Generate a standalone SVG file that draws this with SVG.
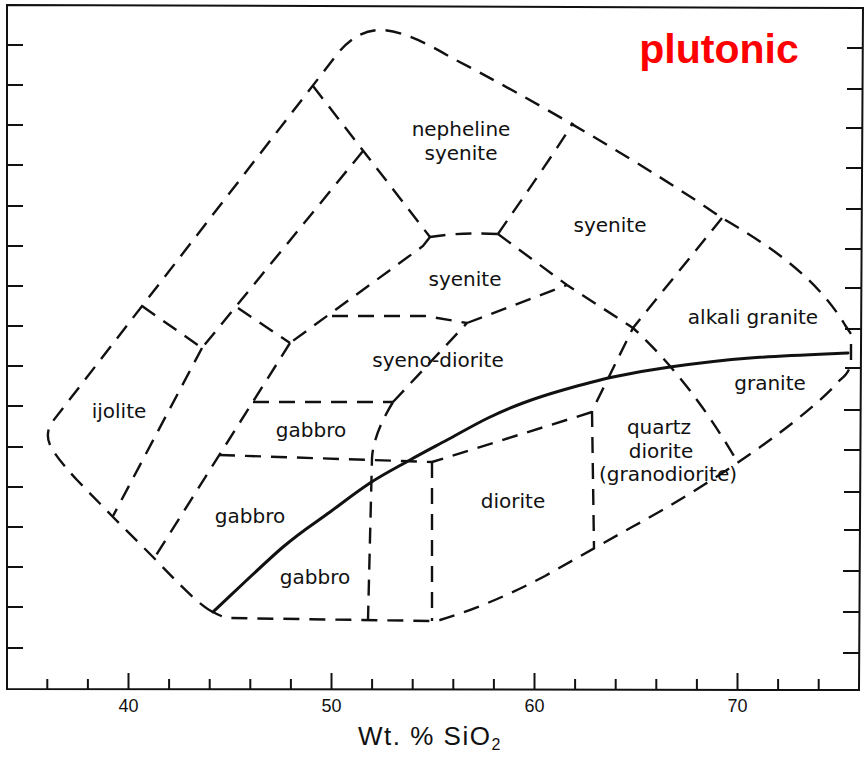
<svg xmlns="http://www.w3.org/2000/svg" width="865" height="757" viewBox="0 0 865 757">
<style>
.frame{fill:none;stroke:#111;stroke-width:2}
.tick{stroke:#111;stroke-width:2}
.dash{fill:none;stroke:#111;stroke-width:2.4;stroke-dasharray:16 10}
.solid{fill:none;stroke:#111;stroke-width:3;stroke-linejoin:round;stroke-linecap:round}
.lbl{font-family:"DejaVu Sans",sans-serif;font-size:20px;fill:#111;text-anchor:middle}
.num{font-family:"Liberation Sans",Arial,sans-serif;font-size:18px;fill:#111;text-anchor:middle}
</style>
<rect width="865" height="757" fill="#fff"/>
<g id="axes">
<path class="frame" d="M7,689 L7,5 L863,8 L859,690 Z"/>
<g id="left-ticks" class="tick">
<line x1="7" y1="45" x2="23" y2="45"/><line x1="7" y1="85" x2="23" y2="85"/><line x1="7" y1="125" x2="23" y2="125"/><line x1="7" y1="165" x2="23" y2="165"/>
<line x1="7" y1="206" x2="23" y2="206"/><line x1="7" y1="246" x2="23" y2="246"/><line x1="7" y1="286" x2="23" y2="286"/><line x1="7" y1="326" x2="23" y2="326"/>
<line x1="7" y1="366" x2="23" y2="366"/><line x1="7" y1="406" x2="23" y2="406"/><line x1="7" y1="447" x2="23" y2="447"/><line x1="7" y1="487" x2="23" y2="487"/>
<line x1="7" y1="527" x2="23" y2="527"/><line x1="7" y1="567" x2="23" y2="567"/><line x1="7" y1="607" x2="23" y2="607"/><line x1="7" y1="648" x2="23" y2="648"/>
</g>
<g id="right-ticks" class="tick">
<line x1="847" y1="48" x2="863" y2="48"/><line x1="847" y1="89" x2="862" y2="89"/><line x1="846" y1="128" x2="862" y2="128"/><line x1="846" y1="168" x2="862" y2="168"/>
<line x1="846" y1="209" x2="862" y2="209"/><line x1="845" y1="249" x2="861" y2="249"/><line x1="845" y1="288" x2="861" y2="288"/><line x1="845" y1="329" x2="861" y2="329"/>
<line x1="845" y1="368" x2="861" y2="368"/><line x1="844" y1="410" x2="860" y2="410"/><line x1="844" y1="450" x2="860" y2="450"/><line x1="844" y1="492" x2="860" y2="492"/>
<line x1="844" y1="530" x2="860" y2="530"/><line x1="843" y1="571" x2="859" y2="571"/><line x1="843" y1="612" x2="859" y2="612"/><line x1="843" y1="653" x2="859" y2="653"/>
</g>
<g id="bottom-ticks" class="tick">
<line x1="47.3" y1="689" x2="47.3" y2="679"/><line x1="87.9" y1="689" x2="87.9" y2="679"/><line x1="128.5" y1="689" x2="128.5" y2="673"/><line x1="169.1" y1="689" x2="169.1" y2="679"/>
<line x1="209.7" y1="689" x2="209.7" y2="679"/><line x1="250.3" y1="689" x2="250.3" y2="679"/><line x1="290.9" y1="689" x2="290.9" y2="679"/><line x1="331.5" y1="689" x2="331.5" y2="673"/>
<line x1="372.1" y1="689" x2="372.1" y2="679"/><line x1="412.7" y1="689" x2="412.7" y2="679"/><line x1="453.3" y1="689" x2="453.3" y2="679"/><line x1="493.9" y1="689" x2="493.9" y2="679"/>
<line x1="534.5" y1="690" x2="534.5" y2="673"/><line x1="575.1" y1="690" x2="575.1" y2="679"/><line x1="615.7" y1="690" x2="615.7" y2="679"/><line x1="656.3" y1="690" x2="656.3" y2="679"/>
<line x1="696.9" y1="690" x2="696.9" y2="679"/><line x1="737.5" y1="690" x2="737.5" y2="673"/><line x1="778.1" y1="690" x2="778.1" y2="679"/><line x1="818.7" y1="690" x2="818.7" y2="679"/>
</g>
<g id="tick-labels">
<text class="num" x="128.5" y="712">40</text>
<text class="num" x="331.5" y="712">50</text>
<text class="num" x="534.5" y="712">60</text>
<text class="num" x="737.5" y="712">70</text>
</g>
<text id="x-title" x="358" y="745" font-family="'Liberation Sans',Arial,sans-serif" font-size="26" letter-spacing="1.5" fill="#111">Wt. % SiO<tspan font-size="16" dy="5">2</tspan></text>
</g>
<g id="connectors">
<path id="outer" class="dash" d="M213,612 C200,606 178,583 153,557 L112,516 L77,480 Q62,464 54,452 C46,441 46,430 53,421 L335,57 Q355,30 380,30 C400,30 425,42 450,57 C530,98 650,168 722,218 C765,243 815,275 845,325 L851,334 L851,360 Q851,372 840,380 C805,420 710,485 632,527 L545,576 Q490,605 440,620 L433,621 L227,618 Q220,616 213,612"/>
<path class="dash" d="M313,86 L430,237"/>
<path class="dash" d="M430,237 Q460,232 498,234"/>
<path class="dash" d="M498,234 C506,222 550,160 573,123"/>
<path class="dash" d="M498,234 L567,285 L633,328 Q690,380 738,463"/>
<path class="dash" d="M722,218 L633,328 L592,411"/>
<path class="dash" d="M592,411 L594,548"/>
<path class="dash" d="M592,412 L432,462"/>
<path class="dash" d="M432,462 L432,621"/>
<path class="dash" d="M219,455 L432,462"/>
<path class="dash" d="M393,402 C382,420 373,440 372,458 L368,620"/>
<path class="dash" d="M253,402 L393,402"/>
<path class="dash" d="M393,402 L467,323"/>
<path class="dash" d="M332,316 L425,316 L467,323"/>
<path class="dash" d="M467,323 L567,285"/>
<path class="dash" d="M430,237 L423,246 L290,343"/>
<path class="dash" d="M238,308 L290,343"/>
<path class="dash" d="M363,151 L202,348"/>
<path class="dash" d="M202,348 L113,516"/>
<path class="dash" d="M142,306 L202,348"/>
<path class="dash" d="M290,343 L155,557"/>
<path id="alkaline-line" class="solid" d="M213,612 C224.7,601.2 263.5,563.7 283,547 C302.5,530.3 315.5,522.7 330,512 C344.5,501.3 356.7,491.7 370,483 C383.3,474.3 397.2,467.2 410,460 C422.8,452.8 434,447 447,440 C460,433 475.3,424.2 488,418 C500.7,411.8 510.5,407.7 523,403 C535.5,398.3 548,394.3 563,390 C578,385.7 595.2,380.8 613,377 C630.8,373.2 647.2,370.2 670,367 C692.8,363.8 720.3,360.3 750,358 C779.7,355.7 831.7,353.8 848,353"/>
</g>
<g id="labels">
<g id="n-nepheline-syenite"><text class="lbl" x="461" y="136">nepheline</text><text class="lbl" x="461" y="160">syenite</text></g>
<g id="n-syenite-1"><text class="lbl" x="610" y="232">syenite</text></g>
<g id="n-syenite-2"><text class="lbl" x="465" y="286">syenite</text></g>
<g id="n-alkali-granite"><text class="lbl" x="753" y="324">alkali granite</text></g>
<g id="n-syeno-diorite"><text class="lbl" x="438" y="367">syeno-diorite</text></g>
<g id="n-ijolite"><text class="lbl" x="119" y="418">ijolite</text></g>
<g id="n-gabbro-1"><text class="lbl" x="311" y="437">gabbro</text></g>
<g id="n-gabbro-2"><text class="lbl" x="250" y="523">gabbro</text></g>
<g id="n-gabbro-3"><text class="lbl" x="315" y="584">gabbro</text></g>
<g id="n-diorite"><text class="lbl" x="513" y="508">diorite</text></g>
<g id="n-quartz-diorite"><text class="lbl" x="659" y="434">quartz</text><text class="lbl" x="661" y="458">diorite</text><text class="lbl" x="668" y="481">(granodiorite)</text></g>
<g id="n-granite"><text class="lbl" x="770" y="390">granite</text></g>
<text id="title" x="719" y="63" font-family="'Liberation Sans',Arial,sans-serif" font-size="41" font-weight="bold" fill="#ff0000" text-anchor="middle">plutonic</text>
</g>
</svg>
